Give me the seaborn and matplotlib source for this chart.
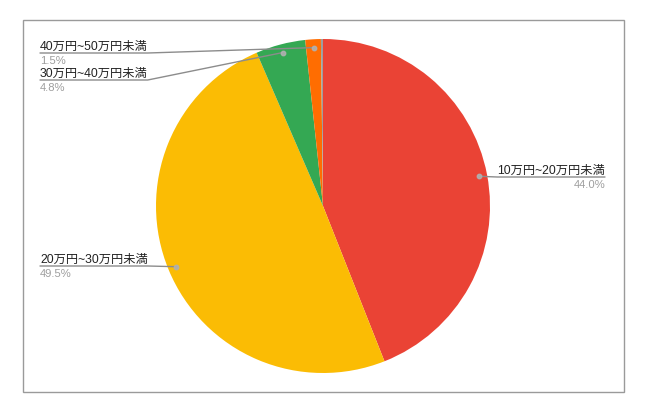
import numpy as np
import matplotlib
matplotlib.use("Agg")
import matplotlib.pyplot as plt
import seaborn as sns

# data ---------------------------------------------------------------
labels = ["10万円~20万円未満", "20万円~30万円未満", "30万円~40万円未満",
          "40万円~50万円未満", "50万円以上"]
shares = [44.0, 49.5, 4.8, 1.5, 0.2]
pct_text = ["44.0%", "49.5%", "4.8%", "1.5%", ""]
colors = ["#EA4335", "#FBBC04", "#34A853", "#FF6D01", "#9E9E9E"]

sns.set_theme(style="white")
plt.rcParams['font.family'] = ['Liberation Sans', 'Noto Sans CJK JP', 'DejaVu Sans']

W, H = 650, 419
fig = plt.figure(figsize=(W / 100, H / 100), dpi=100)
ax = fig.add_axes([0, 0, 1, 1])

def py(y):
    # pixel row (from top) to axis y
    return H - y

cx, cy, r = 323, py(206), 167
wedges, _ = ax.pie(shares, colors=colors, startangle=90, counterclock=False,
                   center=(cx, cy), radius=r, frame=True,
                   wedgeprops=dict(linewidth=0))
ax.set_xlim(0, W)
ax.set_ylim(0, H)
ax.set_aspect('equal')
ax.axis('off')

# outer frame
ax.add_patch(plt.Rectangle((22.5, py(392.5)), 601, 373, fill=False,
                           edgecolor="#9a9a9a", linewidth=1))

# label layout: (index, text x, underline y, side)
layout = [
    (0, 605, 177, 'right'),
    (1, 40, 266, 'left'),
    (2, 40, 80, 'left'),
    (3, 40, 53, 'left'),
]
line_c = "#8c8c8c"
fs = 8.8
for i, tx, ly, side in layout:
    w = wedges[i]
    mid = np.deg2rad((w.theta1 + w.theta2) / 2)
    dx = cx + 0.95 * r * np.cos(mid)
    dy = cy + 0.95 * r * np.sin(mid)
    ax.plot(dx, dy, 'o', ms=3.2, color="#b0b0b0", alpha=0.9, zorder=5)
    t = ax.text(tx, py(ly) + 3.5, labels[i], ha=side, va='baseline', fontsize=fs,
                color="#222222")
    fig.canvas.draw()
    bb = t.get_window_extent().transformed(ax.transData.inverted())
    x_end = bb.x1 if side == 'left' else bb.x0
    ax.plot([tx, x_end, dx], [py(ly), py(ly), dy], color=line_c, lw=1)
    ax.text(tx, py(ly) - 11, pct_text[i], ha=side, va='baseline', fontsize=8.1,
            color="#9e9e9e")

fig.savefig("out.png", dpi=100)
